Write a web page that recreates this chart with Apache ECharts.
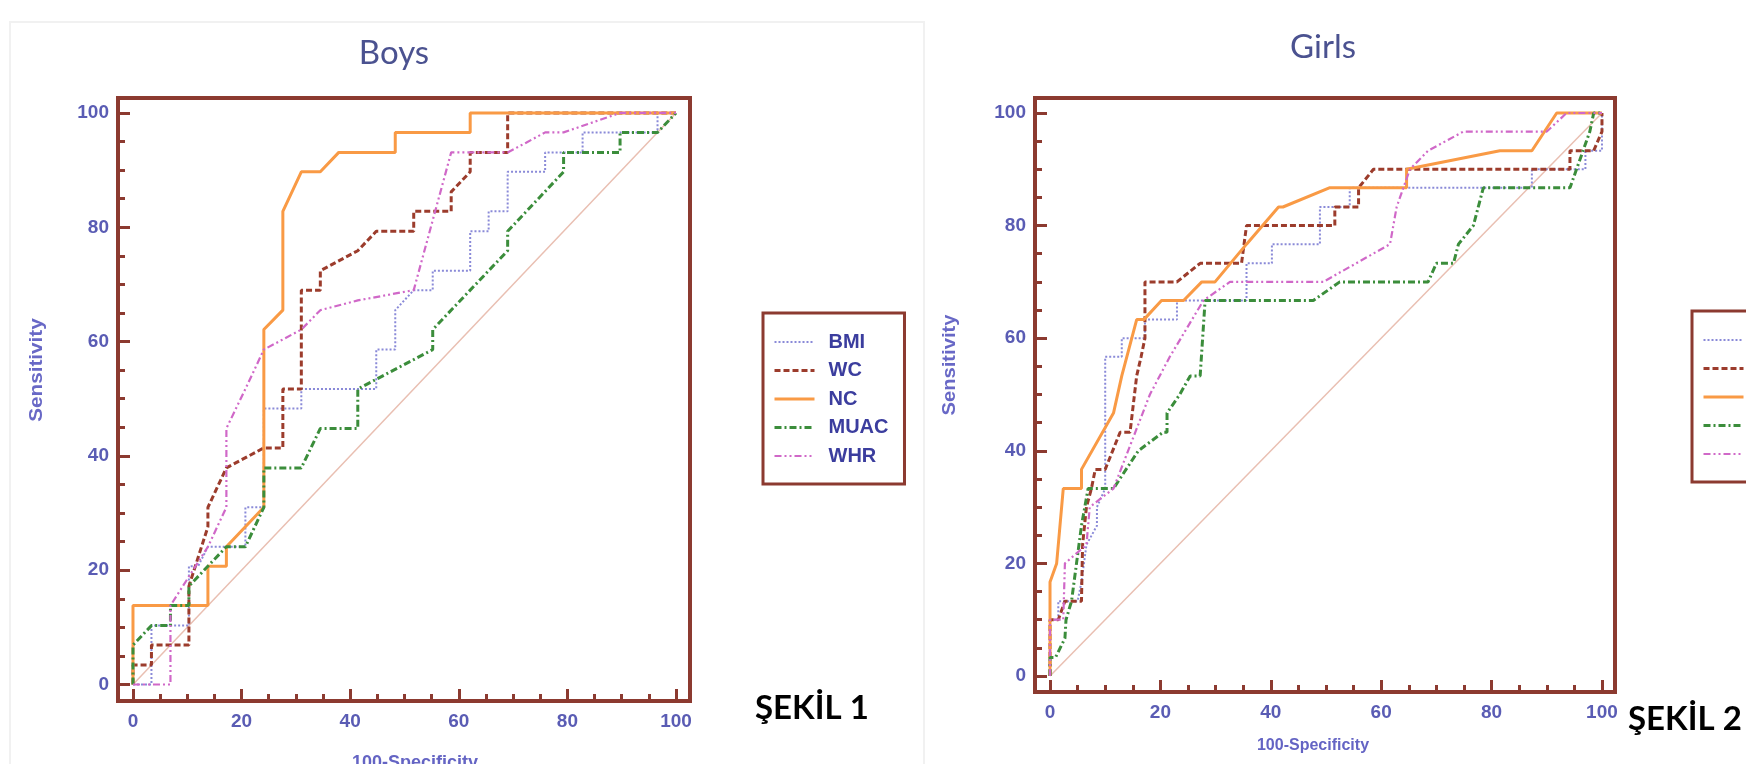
<!DOCTYPE html>
<html>
<head>
<meta charset="utf-8">
<script src="https://cdn.jsdelivr.net/npm/echarts@6/dist/echarts.min.js"></script>
<style>
  html, body { margin: 0; padding: 0; background: #fff; }
  #chart { width: 1746px; height: 764px; }
</style>
</head>
<body>
<div id="chart"></div>
<script>
// ROC curves, [100-specificity, sensitivity]
const seriesNames = ['BMI', 'WC', 'NC', 'MUAC', 'WHR'];

const boysBMI = [[0,0],[3.4,0],[3.4,10.3],[10.3,10.3],[10.3,20.7],[12,20.7],[13.8,24.1],[20.7,24.1],[20.7,31],[24.1,31],[24.1,48.3],[31,48.3],[31,51.7],[44.8,51.7],[44.8,58.6],[48.3,58.6],[48.3,65.5],[51.7,69],[55.2,69],[55.2,72.4],[62.1,72.4],[62.1,79.3],[65.5,79.3],[65.5,82.8],[69,82.8],[69,89.7],[75.9,89.7],[75.9,93.1],[82.8,93.1],[82.8,96.6],[96.6,96.6],[96.6,100],[100,100]];
const boysWC = [[0,0],[0,3.4],[3.4,3.4],[3.4,6.9],[10.3,6.9],[10.3,17.2],[13.8,27.6],[13.8,31],[17.2,37.9],[24.1,41.4],[27.6,41.4],[27.6,51.7],[31,51.7],[31,69],[34.5,69],[34.5,72.4],[41.4,75.9],[44.8,79.3],[51.7,79.3],[51.7,82.8],[58.6,82.8],[58.6,86.2],[62.1,89.7],[62.1,93.1],[69,93.1],[69,100],[100,100]];
const boysNC = [[0,0],[0,13.8],[13.8,13.8],[13.8,20.7],[17.2,20.7],[17.2,24.1],[24.1,31],[24.1,62.1],[27.6,65.5],[27.6,82.8],[31,89.7],[34.5,89.7],[37.9,93.1],[48.3,93.1],[48.3,96.6],[62.1,96.6],[62.1,100],[100,100]];
const boysMUAC = [[0,0],[0,6.9],[3.4,10.3],[6.9,10.3],[6.9,13.8],[10.3,13.8],[10.3,17.2],[17.2,24.1],[20.7,24.1],[24.1,31],[24.1,37.9],[31,37.9],[34.5,44.8],[41.4,44.8],[41.4,51.7],[44.8,53.4],[55.2,58.6],[55.2,62.1],[69,75.9],[69,79.3],[79.3,89.7],[79.3,93.1],[89.7,93.1],[89.7,96.6],[96.6,96.6],[100,100]];
const boysWHR = [[0,0],[6.9,0],[6.9,13.8],[13.8,24.1],[17.2,31],[17.2,44.8],[20.7,51.7],[24.1,58.6],[31,62.1],[34.5,65.5],[41.4,67.2],[51.7,69],[58.6,93.1],[69,93.1],[72.4,94.8],[75.9,96.6],[79.3,96.6],[89.7,100],[100,100]];

const girlsBMI = [[0,0],[0,10],[1.5,10],[1.5,13.3],[5,13.3],[5.7,16.7],[6.6,23.3],[8.5,26.7],[8.5,30],[10,33.3],[10,56.7],[13,56.7],[13,60],[17.2,60],[17.2,63.3],[23,63.3],[23,66.7],[35.6,66.7],[35.6,73.3],[40.2,73.3],[40.2,76.7],[48.9,76.7],[48.9,83.3],[54.3,83.3],[54.3,86.7],[87.3,86.7],[87.3,90],[97,90],[97,93.3],[100,93.3],[100,100]];
const girlsWC = [[0,0],[0,10],[1.5,10],[2.7,13.3],[5.7,13.3],[5.9,23.3],[6.6,30],[7.5,33.3],[8.2,36.7],[10,36.7],[12.7,43.3],[14.5,43.3],[15.7,53.3],[16.5,56.7],[17.2,60],[17.2,70],[23,70],[27.2,73.3],[34.7,73.3],[35.6,80],[51.6,80],[51.6,83.3],[55.9,83.3],[55.9,86.7],[58.6,90],[94.2,90],[94.2,93.3],[98.5,93.3],[100,96.7],[100,100]];
const girlsNC = [[0,0],[0,16.7],[1.2,20],[2.4,33.3],[5.7,33.3],[5.7,36.7],[11.5,46.7],[13,53.3],[15.7,63.3],[17,63.3],[20.2,66.7],[24.2,66.7],[27.5,70],[29.9,70],[35.6,76.7],[41.4,83.3],[42.2,83.3],[50.6,86.7],[64.6,86.7],[64.6,90],[81.5,93.3],[87.3,93.3],[91.8,100],[100,100]];
const girlsMUAC = [[0,0],[0,3.3],[1,3.3],[2.7,6.7],[2.9,10],[3.9,13.3],[4.8,20],[5.7,26.7],[6.9,33.3],[11.5,33.3],[16,40],[20.5,43.3],[21.2,43.3],[21.2,46.7],[23.5,50],[25.4,53.3],[27.2,53.3],[28.1,66.7],[47.7,66.7],[52.5,70],[68.5,70],[70,73.3],[73.1,73.3],[74,76.7],[76.7,80],[78.5,86.7],[94.2,86.7],[97.8,96.7],[98.5,100],[100,100]];
const girlsWHR = [[0,0],[0,10],[2.4,10],[2.7,20],[6.6,23.3],[7.2,30],[11.5,33.3],[18.1,50],[21.7,56.7],[27.8,66.7],[32.6,70],[49.5,70],[61.6,76.7],[62.8,83.3],[65.2,90],[68.5,93.3],[74.9,96.7],[90,96.7],[93.6,100],[100,100]];

const diagonal = [[0,0],[100,100]];
const majorTicks = [0, 20, 40, 60, 80, 100];
const minorTicks = [5, 10, 15, 25, 30, 35, 45, 50, 55, 65, 70, 75, 85, 90, 95];

const frameColor = '#8c3a30';
const labelColor = '#5a5cb4';

// 每条曲线的线型
const styles = {
  BMI:  { color: '#8a8ad8', width: 2,   type: [2, 2] },
  WC:   { color: '#9c3c2c', width: 3,   type: [6, 3] },
  NC:   { color: '#f99a45', width: 3,   type: 'solid' },
  MUAC: { color: '#3b8d3b', width: 3,   type: [7, 3, 2, 3] },
  WHR:  { color: '#d068c8', width: 2.2, type: [7, 3, 2, 3, 2, 3] }
};

const boysData = [boysBMI, boysWC, boysNC, boysMUAC, boysWHR];
const girlsData = [girlsBMI, girlsWC, girlsNC, girlsMUAC, girlsWHR];

const chart = echarts.init(document.getElementById('chart'));

function makeAxes(dim, gridIndex, min, max) {
  const base = {
    type: 'value', gridIndex, min, max,
    position: dim === 'x' ? 'bottom' : 'left',
    axisLine: { show: false, onZero: false },
    splitLine: { show: false }
  };
  return [
    Object.assign({}, base, {
      axisTick: { show: true, inside: true, length: 12, customValues: majorTicks,
        lineStyle: { color: frameColor, width: 3 } },
      axisLabel: { show: true, customValues: majorTicks, margin: dim === 'x' ? 11 : 9,
        color: labelColor, fontFamily: 'Liberation Sans', fontWeight: 'bold', fontSize: 19 }
    }),
    Object.assign({}, base, {
      axisTick: { show: true, inside: true, length: 7, customValues: minorTicks,
        lineStyle: { color: frameColor, width: 3 } },
      axisLabel: { show: false }
    })
  ];
}

function makeSeries(dataList, axisOffset) {
  const list = dataList.map((d, i) => ({
    name: seriesNames[i],
    type: 'line',
    xAxisIndex: axisOffset, yAxisIndex: axisOffset,
    data: d,
    symbol: 'none',
    color: styles[seriesNames[i]].color,
    lineStyle: styles[seriesNames[i]],
    z: 3
  }));
  list.unshift({
    name: 'ref', type: 'line', xAxisIndex: axisOffset, yAxisIndex: axisOffset,
    data: diagonal, symbol: 'none', silent: true,
    lineStyle: { color: '#e9bfb2', width: 1.5 }, z: 2
  });
  return list;
}

function makeLegend(left, top) {
  return {
    orient: 'vertical', left, top,
    data: seriesNames.map(n => ({ name: n, lineStyle: { width: styles[n].width } })),
    itemWidth: 40, itemHeight: 14, itemGap: 6.5,
    padding: [18, 16, 17, 10],
    borderColor: frameColor, borderWidth: 3,
    itemStyle: { opacity: 0 },
    selectedMode: false,
    textStyle: { fontFamily: 'Liberation Sans', fontWeight: 'bold', fontSize: 20,
      color: '#3b3d9e', lineHeight: 22, padding: [0, 0, 0, 9] }
  };
}

function text(x, y, str, style, rotation, scaleX) {
  return {
    type: 'text', x, y, rotation: rotation || 0, scaleX: scaleX || 1,
    style: Object.assign({ text: str, textAlign: 'center', textVerticalAlign: 'middle' }, style)
  };
}

const titleStyle = { fill: '#4b5290', font: '33px Lato' };
const yNameStyle = { fill: '#6868c6', font: 'bold 18px "Liberation Sans"' };
const figStyle = { fill: '#000', font: 'bold 33px Lato', textAlign: 'left' };

const option = {
  animation: false,
  backgroundColor: '#fff',
  grid: [
    { left: 118, top: 98, width: 572, height: 603, show: true, borderColor: frameColor, borderWidth: 4 },
    { left: 1035, top: 98, width: 580, height: 594, show: true, borderColor: frameColor, borderWidth: 4 }
  ],
  xAxis: [].concat(makeAxes('x', 0, -2.76, 102.58), makeAxes('x', 1, -2.72, 102.36)),
  yAxis: [].concat(makeAxes('y', 0, -2.89, 102.62), makeAxes('y', 1, -2.84, 102.66)),
  legend: [makeLegend(763, 313), makeLegend(1692, 311)],
  series: [].concat(makeSeries(boysData, 0), makeSeries(girlsData, 2)),
  graphic: [
    { type: 'rect', shape: { x: 10, y: 22, width: 914, height: 760 },
      style: { fill: 'none', stroke: '#f1f1f1', lineWidth: 2 }, z: -1 },
    text(394, 53, 'Boys', titleStyle),
    text(1323, 47, 'Girls', titleStyle),
    text(37, 370, 'Sensitivity', yNameStyle, Math.PI / 2, 1.15),
    text(950, 365, 'Sensitivity', yNameStyle, Math.PI / 2, 1.12),
    text(415, 763, '100-Specificity', { fill: '#6464c4', font: 'bold 18px "Liberation Sans"' }),
    text(1313, 746, '100-Specificity', { fill: '#6464c4', font: 'bold 16px "Liberation Sans"' }),
    text(755, 708, 'ŞEKİL 1', figStyle),
    text(1628, 719, 'ŞEKİL 2', figStyle)
  ]
};

chart.setOption(option);
</script>
</body>
</html>
